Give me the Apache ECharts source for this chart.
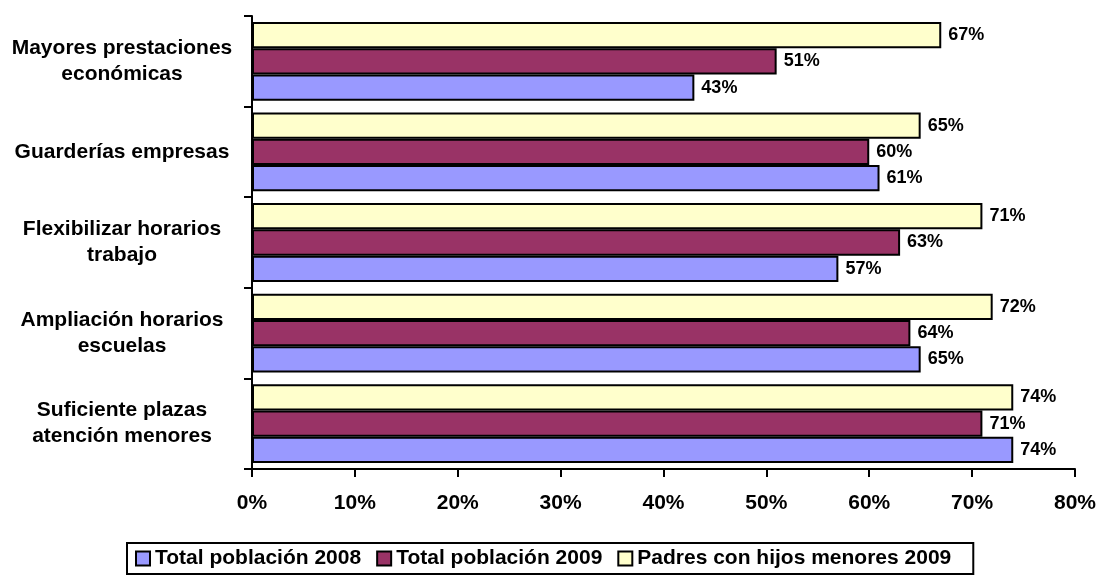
<!DOCTYPE html>
<html><head><meta charset="utf-8">
<script src="https://cdn.jsdelivr.net/npm/echarts@6/dist/echarts.min.js"></script>
<style>html,body{margin:0;padding:0;background:#fff}#c{width:1099px;height:577px}</style>
</head><body><div id="c"></div>
<script>
const categories = ['Suficiente plazas\natención menores','Ampliación horarios\nescuelas','Flexibilizar horarios\ntrabajo','Guarderías empresas','Mayores prestaciones\neconómicas'];
const seriesNames = ['Total población 2008','Total población 2009','Padres con hijos menores 2009'];
const pob2008 = [74, 65, 57, 61, 43];
const pob2009 = [71, 64, 63, 60, 51];
const padres2009 = [74, 72, 71, 65, 67];
const xTicks = [0, 10, 20, 30, 40, 50, 60, 70, 80];
const colors = ['#9999FF','#993366','#FFFFCC'];
const font = 'Liberation Sans, Arial, sans-serif';
const chart = echarts.init(document.getElementById('c'));
const mk = (name, data, i) => ({
  name, type: 'bar', data,
  barGap: '0%', barCategoryGap: '13%',
  itemStyle: {color: colors[i], borderColor: '#000', borderWidth: 2},
  label: {show: true, position: 'right', distance: 7, formatter: p => p.value + '%',
    fontFamily: font, fontWeight: 'bold', fontSize: 18, color: '#000'}
});
chart.setOption({
  animation: false,
  grid: {left: 252, right: 21, top: 16, bottom: 108},
  legend: {
    left: 127, top: 543, itemWidth: 14, itemHeight: 14, itemGap: 15,
    padding: [5, 22, 5, 8], borderColor: '#000', borderWidth: 2,
    textStyle: {fontFamily: font, fontWeight: 'bold', fontSize: 21, color: '#000'},
    itemStyle: {borderColor: '#000', borderWidth: 2},
    data: seriesNames.map(n => ({name: n, icon: 'rect'}))
  },
  xAxis: {
    type: 'value', min: xTicks[0], max: xTicks[xTicks.length-1], interval: 10,
    axisLine: {show: true, lineStyle: {color: '#000', width: 2}},
    axisTick: {show: true, length: 8, lineStyle: {color: '#000', width: 2}},
    splitLine: {show: false},
    axisLabel: {formatter: v => v + '%', fontFamily: font, fontWeight: 'bold', fontSize: 21, color: '#000', margin: 24}
  },
  yAxis: {
    type: 'category', data: categories,
    axisLine: {show: true, lineStyle: {color: '#000', width: 2}},
    axisTick: {show: true, length: 8, lineStyle: {color: '#000', width: 2}},
    axisLabel: {fontFamily: font, fontWeight: 'bold', fontSize: 21, color: '#000', align: 'center', margin: 130, lineHeight: 26}
  },
  series: [mk(seriesNames[2], padres2009, 2), mk(seriesNames[1], pob2009, 1), mk(seriesNames[0], pob2008, 0)]
});
</script></body></html>
